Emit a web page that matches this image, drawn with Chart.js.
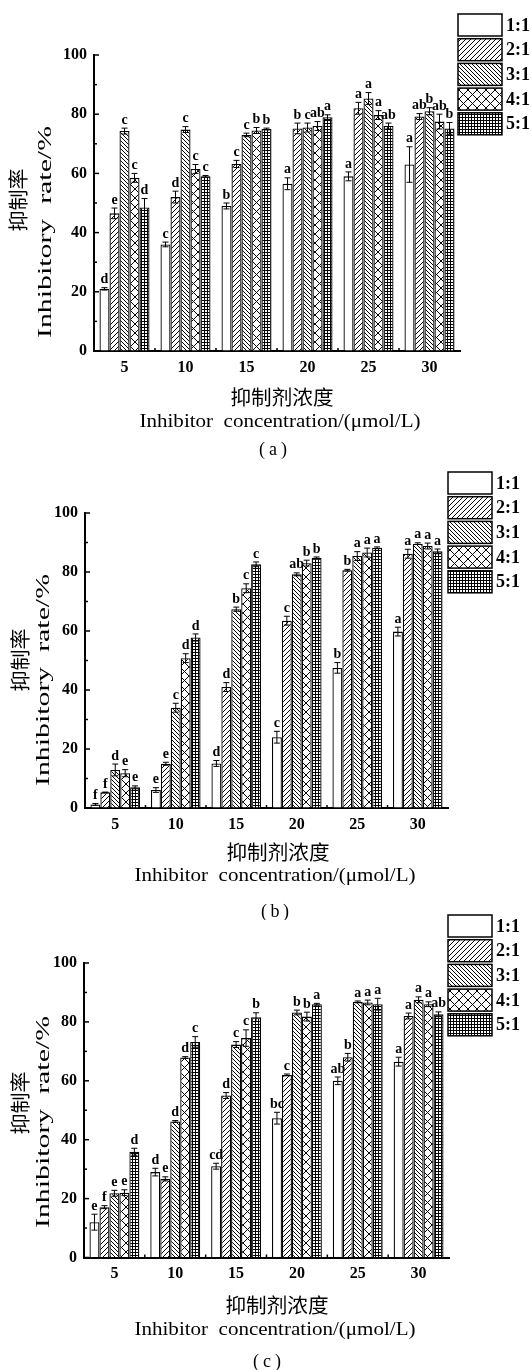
<!DOCTYPE html>
<html>
<head>
<meta charset="utf-8">
<script src="https://cdn.jsdelivr.net/npm/chart.js@4.4.1/dist/chart.umd.min.js"></script>
<style>
body{margin:0;background:#fff;width:531px;height:1370px;position:relative;overflow:hidden}
canvas{position:absolute;left:0}
</style>
</head>
<body>
<canvas id="chartA"></canvas>
<canvas id="chartB"></canvas>
<canvas id="chartC"></canvas>
<script>
// categories
const concentrations = ['5', '10', '15', '20', '25', '30'];
const ratios = ['1:1', '2:1', '3:1', '4:1', '5:1'];
const yMin = 0, yMax = 100, yStep = 20, yMinorStep = 10;

// (a) rows = ratios, cols = concentrations
const rateA = [
  [21, 36, 49, 56.5, 59, 63],
  [46.5, 52, 63.2, 75.2, 82, 79.2],
  [74.3, 74.8, 73, 75.5, 85.3, 81],
  [58.5, 61.5, 74.5, 76, 79.7, 77.5],
  [48.5, 59, 75, 79, 76, 75.2]
];
const errA = [
  [0.4, 0.8, 1, 2, 1.5, 6],
  [1.8, 2, 1.2, 1.8, 2, 1],
  [1, 1, 0.6, 1.5, 2, 1.2],
  [1.5, 1.5, 1, 1.5, 1.5, 2.5],
  [3, 0.3, 0.3, 0.8, 1, 2]
];
const sigA = [
  ['d', 'c', 'b', 'a', 'a', 'a'],
  ['e', 'd', 'c', 'b', 'a', 'ab'],
  ['c', 'c', 'c', 'c', 'a', 'b'],
  ['c', 'c', 'b', 'ab', 'a', 'ab'],
  ['d', 'c', 'b', 'a', 'ab', 'b']
];

// (b)
const rateB = [
  [1.2, 6.1, 15.1, 24, 47.5, 59.8],
  [5.3, 15, 41, 63.5, 80.6, 86.2],
  [12.9, 34, 67.4, 79.2, 85.4, 89.6],
  [11.8, 50.8, 74.5, 83, 86.6, 88.8],
  [7, 57.8, 82.6, 84.8, 88.2, 87]
];
const errB = [
  [0.3, 0.8, 1, 2, 1.8, 1.5],
  [0.1, 0.5, 1.5, 1.5, 0.3, 1.5],
  [2, 1.5, 0.7, 0.5, 1.5, 0.3],
  [1.2, 1.5, 1.5, 1, 1.5, 1],
  [0.5, 1.2, 0.8, 0.3, 0.3, 0.8]
];
const sigB = [
  ['f', 'e', 'd', 'c', 'b', 'a'],
  ['f', 'e', 'd', 'c', 'b', 'a'],
  ['d', 'c', 'b', 'ab', 'a', 'a'],
  ['e', 'd', 'c', 'b', 'a', 'a'],
  ['e', 'd', 'c', 'b', 'a', 'a']
];

// (c)
const rateC = [
  [12, 29, 31, 47.3, 60, 66.5],
  [17.1, 26.7, 55, 62, 68, 82],
  [21.8, 46.2, 72.3, 83.2, 86.8, 87.5],
  [22, 67.9, 74.5, 81.8, 86.6, 86],
  [35.9, 73.2, 81.6, 86, 86, 82.6]
];
const errC = [
  [2.7, 1.3, 1, 2, 1.3, 1.5],
  [0.5, 0.7, 1, 0.3, 1.3, 1],
  [1, 0.3, 1, 0.8, 0.3, 1],
  [1, 0.3, 2.8, 1.5, 0.8, 0.8],
  [1.2, 1.8, 1.5, 0.3, 2, 0.8]
];
const sigC = [
  ['e', 'd', 'cd', 'bc', 'ab', 'a'],
  ['f', 'e', 'd', 'c', 'b', 'a'],
  ['e', 'd', 'c', 'b', 'a', 'a'],
  ['e', 'd', 'c', 'b', 'a', 'a'],
  ['d', 'c', 'b', 'a', 'a', 'ab']
];

const W = 531;
const serif = '"Liberation Serif", "Times New Roman", serif';
const cjk = '"Noto Sans CJK SC", sans-serif';

// hatch fills
function hatch(kind) {
  const s = {fwd: 5, back: 4, cross: 9, grid: 3}[kind];
  const c = document.createElement('canvas');
  c.width = s; c.height = s;
  const g = c.getContext('2d');
  g.fillStyle = '#fff';
  g.fillRect(0, 0, s, s);
  g.strokeStyle = '#000';
  g.fillStyle = '#000';
  g.lineWidth = 1;
  if (kind == 'grid') {
    g.fillRect(0, 0, s, 1);
    g.fillRect(0, 0, 1, s);
  } else {
    g.beginPath();
    if (kind == 'fwd' || kind == 'cross') {
      g.moveTo(0, s); g.lineTo(s, 0);
      g.moveTo(-1, 1); g.lineTo(1, -1);
      g.moveTo(s - 1, s + 1); g.lineTo(s + 1, s - 1);
    }
    if (kind == 'back' || kind == 'cross') {
      g.moveTo(0, 0); g.lineTo(s, s);
      g.moveTo(-1, s - 1); g.lineTo(1, s + 1);
      g.moveTo(s - 1, -1); g.lineTo(s + 1, 1);
    }
    g.stroke();
  }
  return g.createPattern(c, 'repeat');
}
const fills = ['#fff', hatch('fwd'), hatch('back'), hatch('cross'), hatch('grid')];

// text squeezed/stretched to a measured width
function fitText(ctx, text, cx, cy, width, font, rot) {
  ctx.save();
  ctx.font = font;
  ctx.textAlign = 'center';
  ctx.textBaseline = 'middle';
  const w = ctx.measureText(text).width;
  ctx.translate(cx, cy);
  if (rot) ctx.rotate(-Math.PI / 2);
  ctx.scale(width / w, 1);
  ctx.fillText(text, 0, 0);
  ctx.restore();
}

const decorate = {
  id: 'decorate',
  afterDatasetsDraw(chart) {
    const ctx = chart.ctx;
    const y = chart.scales.y;
    ctx.save();
    ctx.strokeStyle = '#000';
    ctx.fillStyle = '#000';
    ctx.lineWidth = 1;
    ctx.font = 'bold 14px ' + serif;
    ctx.textAlign = 'center';
    ctx.textBaseline = 'bottom';
    chart.data.datasets.forEach((ds, i) => {
      chart.getDatasetMeta(i).data.forEach((bar, j) => {
        const v = ds.data[j], e = ds.err[j];
        const top = y.getPixelForValue(v + e);
        const bot = y.getPixelForValue(v - e);
        const x = bar.x;
        ctx.beginPath();
        ctx.moveTo(x, top); ctx.lineTo(x, bot);
        ctx.moveTo(x - 3, top); ctx.lineTo(x + 3, top);
        ctx.moveTo(x - 3, bot); ctx.lineTo(x + 3, bot);
        ctx.stroke();
        ctx.fillText(ds.sig[j], x, Math.min(top, bar.y) - 1);
      });
    });
    ctx.restore();
  },
  afterDraw(chart, args, o) {
    const ctx = chart.ctx;
    const {left, right, bottom} = chart.chartArea;
    const x = chart.scales.x, y = chart.scales.y;
    ctx.save();
    ctx.strokeStyle = '#000';
    // inward ticks
    ctx.lineWidth = 1.5;
    for (let v = yMin; v <= yMax; v += yMinorStep) {
      const py = y.getPixelForValue(v);
      const len = v % yStep == 0 ? 5 : 3;
      ctx.beginPath();
      ctx.moveTo(left, py); ctx.lineTo(left + len, py);
      ctx.stroke();
    }
    for (let k = 1; k < concentrations.length; k++) {
      const px = (x.getPixelForValue(k - 1) + x.getPixelForValue(k)) / 2;
      ctx.beginPath();
      ctx.moveTo(px, bottom); ctx.lineTo(px, bottom - 3);
      ctx.stroke();
    }
    // legend
    ctx.lineWidth = 1.5;
    ctx.font = 'bold 18px ' + serif;
    ctx.textAlign = 'left';
    ctx.textBaseline = 'middle';
    ctx.fillStyle = '#000';
    chart.data.datasets.forEach((ds, i) => {
      const ty = o.legendY + i * 24.7;
      ctx.fillStyle = ds.backgroundColor;
      ctx.fillRect(o.legendX, ty, 44, 22);
      ctx.strokeRect(o.legendX, ty, 44, 22);
      ctx.fillStyle = '#000';
      ctx.fillText(ds.label, o.legendX + 48, ty + 12);
    });
    // axis titles
    fitText(ctx, '抑制率', o.yCN[0], o.yCN[1], 63, '20px ' + cjk, true);
    fitText(ctx, 'Inhibitory  rate/%', o.yEN[0], o.yEN[1], 212, '18px ' + serif, true);
    fitText(ctx, '抑制剂浓度', o.xCN[0], o.xCN[1], 103, '20px ' + cjk, false);
    fitText(ctx, 'Inhibitor  concentration/(μmol/L)', o.xEN[0], o.xEN[1], 281, '19px ' + serif, false);
    ctx.font = '18px ' + serif;
    ctx.textAlign = 'center';
    ctx.fillText('(', o.tag[0] - 11, o.tag[1]);
    ctx.fillText(o.tagText, o.tag[0], o.tag[1]);
    ctx.fillText(')', o.tag[0] + 11, o.tag[1]);
    ctx.restore();
  }
};

function drawPanel(id, top, h, area, rate, err, sig, deco) {
  const cv = document.getElementById(id);
  cv.width = W; cv.height = h;
  cv.style.top = top + 'px';
  const datasets = ratios.map((r, i) => ({
    label: r,
    data: rate[i],
    err: err[i],
    sig: sig[i],
    backgroundColor: fills[i],
    borderColor: '#000',
    borderWidth: 1.3
  }));
  return new Chart(cv, {
    type: 'bar',
    data: {labels: concentrations, datasets: datasets},
    options: {
      responsive: false,
      animation: false,
      layout: {padding: {top: area.t, right: W - area.r, left: 0, bottom: 0}},
      datasets: {bar: {barPercentage: 1, categoryPercentage: 0.82}},
      plugins: {legend: {display: false}, tooltip: {enabled: false}, decorate: deco},
      scales: {
        x: {
          z: 1,
          grid: {display: true, drawOnChartArea: false, drawTicks: false},
          border: {display: true, color: '#000', width: 2},
          ticks: {color: '#000', padding: 7, font: {family: serif, size: 16, weight: 'bold'}},
          afterFit: s => { s.height = h - area.b; }
        },
        y: {
          z: 1,
          min: yMin, max: yMax,
          grid: {display: true, drawOnChartArea: false, drawTicks: false},
          border: {display: true, color: '#000', width: 2},
          ticks: {stepSize: yStep, color: '#000', padding: 7, font: {family: serif, size: 16, weight: 'bold'}},
          afterFit: s => { s.width = area.l; }
        }
      }
    },
    plugins: [decorate]
  });
}

drawPanel('chartA', 0, 465, {l: 94, r: 460, t: 55, b: 351}, rateA, errA, sigA,
  {legendX: 458, legendY: 14, yCN: [18, 200], yEN: [46, 232], xCN: [282, 397], xEN: [280, 422], tag: [273, 450], tagText: 'a'});
drawPanel('chartB', 460, 460, {l: 85, r: 448, t: 53, b: 348}, rateB, errB, sigB,
  {legendX: 448, legendY: 12, yCN: [20, 200], yEN: [44, 220], xCN: [278, 392], xEN: [275, 416], tag: [275, 452], tagText: 'b'});
drawPanel('chartC', 910, 460, {l: 84, r: 449, t: 53, b: 347.5}, rateC, errC, sigC,
  {legendX: 448, legendY: 5, yCN: [20, 193], yEN: [44, 212], xCN: [277, 395], xEN: [275, 420], tag: [267, 452], tagText: 'c'});
</script>
</body>
</html>
